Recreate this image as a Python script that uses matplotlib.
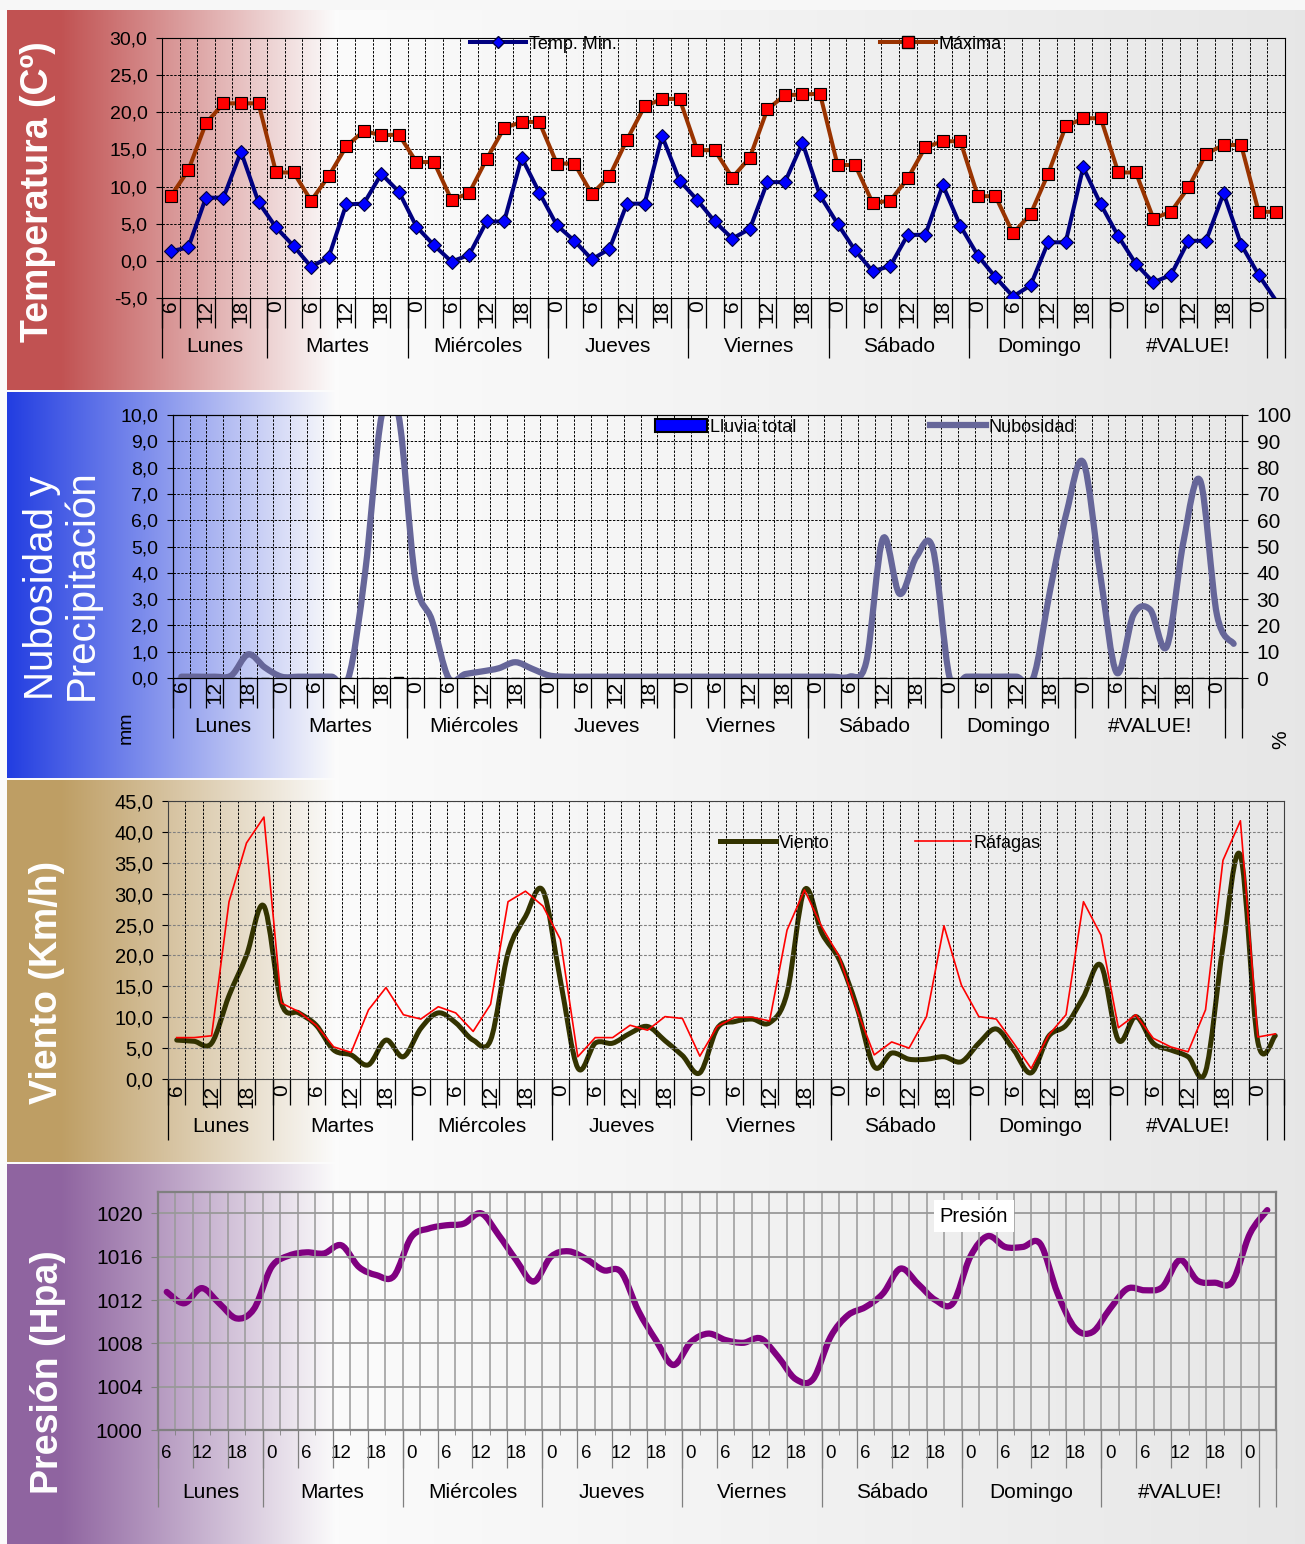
import numpy as np
import matplotlib
matplotlib.use("Agg")
import matplotlib.pyplot as plt
from matplotlib.path import Path
from matplotlib.patches import PathPatch, Patch
from matplotlib.lines import Line2D
from matplotlib.legend import Legend

plt.rcParams['font.family'] = ['Liberation Sans', 'DejaVu Sans']

W, H = 1305, 1544

# categories: one value every 3 hours, Monday 6h onwards
hours = [6, 9, 12, 15, 18, 21] + [0, 3, 6, 9, 12, 15, 18, 21] * 7 + [0, 3]
days = ["Lunes", "Martes", "Miércoles", "Jueves", "Viernes", "Sábado",
        "Domingo", "#VALUE!", ""]
day_sizes = [6, 8, 8, 8, 8, 8, 8, 9, 1]

temp_min = [1.3, 1.8, 8.5, 8.5, 14.7, 7.9,
            4.5, 2.0, -0.8, 0.5, 7.6, 7.7, 11.7, 9.3,
            4.6, 2.1, -0.1, 0.8, 5.3, 5.3, 13.9, 9.2,
            4.8, 2.7, 0.2, 1.6, 7.7, 7.7, 16.8, 10.8,
            8.2, 5.3, 3.0, 4.3, 10.6, 10.6, 15.9, 8.8,
            5.0, 1.4, -1.4, -0.7, 3.5, 3.5, 10.2, 4.7,
            0.7, -2.2, -4.8, -3.3, 2.5, 2.5, 12.6, 7.6,
            3.3, -0.4, -2.9, -1.9, 2.7, 2.7, 9.1, 2.2,
            -1.9, -5.4]
temp_max = [8.7, 12.2, 18.5, 21.2, 21.2, 21.2,
            11.9, 11.9, 8.1, 11.4, 15.4, 17.5, 16.9, 17.0,
            13.3, 13.3, 8.2, 9.1, 13.7, 17.9, 18.7, 18.7,
            13.1, 13.1, 9.0, 11.4, 16.3, 20.8, 21.8, 21.8,
            14.9, 14.9, 11.2, 13.9, 20.4, 22.3, 22.4, 22.5,
            12.9, 12.9, 7.8, 8.1, 11.1, 15.3, 16.1, 16.1,
            8.7, 8.7, 3.7, 6.3, 11.7, 18.1, 19.2, 19.2,
            11.9, 11.9, 5.7, 6.6, 9.9, 14.4, 15.6, 15.6,
            6.6, 6.6]

lluvia = [0.0] * 13 + [0.05] + [0.0] * 50
nubosidad = [0.5, 0.5, 0.5, 1, 9, 4, 0.5, 0.5, 0.5, 0.5, 0, 40, 100, 100,
             38, 22, 0, 1.5, 2.5, 3.7, 6, 3.5, 1] + [0.5] * 18 + \
            [6, 53, 32, 46, 49, 0, 0.5, 0.5, 0.5, 0.5, 0, 33, 63, 82, 40, 2,
             24, 26, 12, 52, 75, 24, 13]

viento = [6.3, 6.1, 5.8, 13.5, 20, 28, 12.3, 10.7, 8.7, 4.7, 3.9, 2.3, 6.3,
          3.6, 8.2, 10.7, 9.1, 6.3, 6.3, 20.4, 26.3, 30.5, 16, 1.8, 5.8, 5.8,
          7.4, 8.5, 6.2, 3.8, 1.0, 8.2, 9.3, 9.7, 9.1, 13.9, 30.6, 23.6, 19.3,
          11.7, 2.0, 4.2, 3.2, 3.2, 3.6, 2.8, 5.8, 8.1, 4.7, 1.0, 6.9, 8.7,
          13.3, 18.4, 6.3, 10.1, 5.8, 4.7, 3.6, 1.2, 21.4, 36.2, 6.0, 7.0]
rafagas = [6.7, 6.7, 7.0, 28.7, 38.2, 42.4, 12.3, 10.9, 8.7, 5.2,
           4.3, 11.2, 14.8, 10.4, 9.7, 11.7, 10.7, 7.7, 12.1, 28.7,
           30.4, 28.0, 22.6, 3.6, 6.7, 6.7, 8.7, 7.9, 10.1, 9.8,
           3.7, 8.5, 10.0, 10.0, 9.4, 24.1, 30.6, 24.6, 19.8, 11.2,
           3.9, 6.0, 5.0, 10.1, 24.8, 15.2, 10.1, 9.7, 5.8, 1.7,
           7.1, 10.4, 28.7, 23.3, 8.3, 10.4, 6.6, 5.2, 4.4, 11.2,
           35.4, 41.8, 6.8, 7.3]

presion = [1012.75, 1011.7, 1013.1, 1011.7, 1010.3, 1011.2, 1015.05, 1016.1,
           1016.4, 1016.3, 1017.05, 1015.05, 1014.3, 1014.2, 1017.8, 1018.6,
           1018.9, 1019.05, 1020.0, 1018.0, 1015.7, 1013.7, 1016.0, 1016.5,
           1015.8, 1014.75, 1014.6, 1011.0, 1008.3, 1006.0, 1008.1, 1008.9,
           1008.3, 1008.05, 1008.45, 1006.75, 1004.7, 1004.7, 1008.6, 1010.6,
           1011.35, 1012.6, 1014.9, 1013.5, 1012.0, 1011.7, 1016.0, 1017.9,
           1016.9, 1016.9, 1017.2, 1012.6, 1009.4, 1009.05, 1011.2, 1013.05,
           1012.9, 1013.2, 1015.7, 1013.8, 1013.6, 1013.7, 1018.1, 1020.3]

x = np.arange(len(hours))
bounds = np.arange(-0.5, len(hours), 1.0)
day_edges = np.concatenate([[0], np.cumsum(day_sizes)]) - 0.5


def comma(v):
    return f"{v:.1f}".replace(".", ",")


def place(l, t, r, b):
    ax = fig.add_axes([l / W, 1 - b / H, (r - l) / W, (b - t) / H])
    ax.set_facecolor("none")
    return ax


def smooth_line(ax, xs, ys, **kw):
    # Excel-like smoothed line: cubic bezier through every point
    xs = np.asarray(xs, float)
    ys = np.asarray(ys, float)
    n = len(xs)
    verts = [(xs[0], ys[0])]
    codes = [Path.MOVETO]
    for i in range(n - 1):
        a = max(i - 1, 0)
        d = min(i + 2, n - 1)
        verts.append((xs[i] + (xs[i + 1] - xs[a]) / 6, ys[i] + (ys[i + 1] - ys[a]) / 6))
        verts.append((xs[i + 1] - (xs[d] - xs[i]) / 6, ys[i + 1] - (ys[d] - ys[i]) / 6))
        verts.append((xs[i + 1], ys[i + 1]))
        codes += [Path.CURVE4] * 3
    ax.add_patch(PathPatch(Path(verts, codes), fill=False, capstyle="round",
                           joinstyle="round", **kw))


def cat_axis(ax, h_px, pad, row_px, sep_px, lab_px, color="black",
             rotate=True, fs=15, pairs=False):
    ax.set_xlim(-0.5, len(hours) - 0.5)
    ax.set_xticks(x[::2], [str(h) for h in hours[::2]],
                  rotation=90 if rotate else 0, fontsize=fs)
    ax.set_xticks(bounds, minor=True)
    ax.tick_params(axis="x", which="major", length=0, pad=pad)
    tr = ax.get_xaxis_transform()
    lines = bounds[::2] if pairs else bounds
    ax.vlines(lines, -row_px / h_px, 0, transform=tr, clip_on=False,
              colors=color, lw=0.9)
    ax.vlines(day_edges, -sep_px / h_px, 0, transform=tr, clip_on=False,
              colors=color, lw=0.9)
    for name, a, b in zip(days, day_edges[:-1], day_edges[1:]):
        ax.text((a + b) / 2, -lab_px / h_px, name, transform=tr,
                ha="center", va="center", fontsize=15)


def key(ax, handle, label, px, py, box, hl=3.1):
    l, t, r, b = box
    leg = Legend(ax, [handle], [label], loc="center left",
                 bbox_to_anchor=((px - l) / (r - l), (b - py) / (b - t)),
                 frameon=False, borderpad=0, borderaxespad=0,
                 handlelength=hl, handletextpad=0.15, fontsize=13)
    ax.add_artist(leg)


fig = plt.figure(figsize=(W / 100, H / 100), dpi=100)

# ---- background: grey sheet with coloured bands on the left ----
bg = fig.add_axes([0, 0, 1, 1], zorder=-10)
cols = np.arange(W)
img = np.ones((H, W, 3))
img[:] = np.interp(cols, [0, 330, W], [0.985, 0.985, 0.905])[None, :, None]
bands = [(10, 390, (193, 82, 82), 60), (392, 778, (35, 62, 225), 8),
         (780, 1162, (190, 158, 100), 60), (1164, H, (143, 100, 160), 60)]
for y0, y1, c, solid in bands:
    fade = np.interp(cols, [7, solid, 335], [1, 1, 0])
    fade[:7] = 0
    c = np.array(c) / 255
    img[y0:y1] = fade[None, :, None] * c + (1 - fade[None, :, None]) * img[y0:y1]
img[:10] = 0.97
bg.imshow(img, aspect="auto", extent=(0, W, H, 0))
bg.set_axis_off()

dash = (0, (2.5, 1.5))

# ---- panel 1: temperature ----
box1 = (162, 38, 1285, 298)
ax1 = place(*box1)
ax1.plot(x, temp_min, color="#000080", lw=2.9, marker="D", ms=7,
         mfc="#0000FF", mec="#000040", mew=0.8, markevery=list(range(63)),
         zorder=4)
ax1.plot(x, temp_max, color="#993300", lw=2.9, marker="s", ms=8.6,
         mfc="#FF0000", mec="black", mew=0.8, zorder=3)
ax1.set_ylim(-5, 30)
ticks1 = np.arange(-5, 31, 5)
ax1.set_yticks(ticks1, [comma(v) for v in ticks1], fontsize=14)
ax1.tick_params(axis="y", length=4.5, pad=6)
ax1.xaxis.grid(True, which="minor", color="black", lw=0.7, ls=dash)
ax1.yaxis.grid(True, color="black", lw=0.7, ls=dash)
cat_axis(ax1, 260, 1.5, 30, 60, 48)
key(ax1, Line2D([], [], color="#000080", lw=2.9, marker="D", ms=6,
                mfc="#0000FF", mec="#000040"), "Temp. Min.", 470, 44, box1)
key(ax1, Line2D([], [], color="#993300", lw=2.9, marker="s", ms=8,
                mfc="#FF0000", mec="black"), "Máxima", 880, 44, box1)

# ---- panel 2: clouds and rain ----
box2 = (173, 415, 1242, 678)
ax2 = place(*box2)
ax2.bar(x, lluvia, width=0.5, color="#0000FF", edgecolor="black", lw=1)
ax2.set_ylim(0, 10)
ticks2 = np.arange(0, 11, 1)
ax2.set_yticks(ticks2, [comma(v) for v in ticks2], fontsize=14)
ax2.tick_params(axis="y", length=4.5, pad=6)
ax2.xaxis.grid(True, which="minor", color="black", lw=0.7, ls=dash)
ax2.yaxis.grid(True, color="black", lw=0.7, ls=dash)
cat_axis(ax2, 263, 2, 30, 60, 48.5)
ax2r = ax2.twinx()
smooth_line(ax2r, x, nubosidad, edgecolor="#666699", lw=4.5)
ax2r.set_ylim(0, 100)
ax2r.set_yticks(np.arange(0, 101, 10))
ax2r.tick_params(axis="y", length=4.5, pad=6, labelsize=15)
key(ax2r, Patch(facecolor="#0000FF", edgecolor="black", lw=1.5),
    "Lluvia total", 655, 427, box2, hl=2.9)
key(ax2r, Line2D([], [], color="#666699", lw=4.5), "Nubosidad", 930, 427, box2)

# ---- panel 3: wind ----
box3 = (168, 801, 1284, 1079)
ax3 = place(*box3)
smooth_line(ax3, x, viento, edgecolor="#333300", lw=3.6)
ax3.plot(x, rafagas, color="#FF0000", lw=1.2)
ax3.set_ylim(0, 45)
ticks3 = np.arange(0, 46, 5)
ax3.set_yticks(ticks3, [comma(v) for v in ticks3], fontsize=14.5)
ax3.tick_params(axis="y", length=4.5, pad=6)
ax3.xaxis.grid(True, which="minor", color="black", lw=0.7, ls=dash)
ax3.yaxis.grid(True, color="#808080", lw=0.8, ls=dash)
for s in ax3.spines.values():
    s.set_color("#404040")
cat_axis(ax3, 278, 4, 26, 61, 48)
key(ax3, Line2D([], [], color="#333300", lw=3.6), "Viento", 720, 843, box3)
key(ax3, Line2D([], [], color="#FF0000", lw=1.2), "Ráfagas", 915, 843, box3)

# ---- panel 4: pressure ----
box4 = (158, 1191.7, 1276, 1430)
ax4 = place(*box4)
smooth_line(ax4, x, presion, edgecolor="#800080", lw=4.5)
ax4.set_ylim(1000, 1022)
ax4.set_yticks(np.arange(1000, 1021, 4))
ax4.tick_params(axis="y", length=5, pad=6, labelsize=15, color="#808080")
ax4.xaxis.grid(True, which="minor", color="#999999", lw=1.1)
ax4.yaxis.grid(True, color="#999999", lw=1.3)
for s in ax4.spines.values():
    s.set_color("#808080")
    s.set_linewidth(1.6)
cat_axis(ax4, 238.3, 11, 38, 77, 63, color="#808080", rotate=False,
         fs=13.5, pairs=True)
ax4.tick_params(axis="x", which="minor", length=3.6, color="#808080")
ax4.text((974 - 158) / 1118, (1430 - 1216) / 238.3, "Presión",
         transform=ax4.transAxes, ha="center", va="center", fontsize=14.5,
         bbox=dict(boxstyle="square,pad=0.3", fc="white", ec="none"))

# ---- panel titles ----
title_kw = dict(rotation=90, color="white", ha="center", va="center")
fig.text(38 / W, 1 - 192 / H, "Temperatura (Cº)", fontsize=27,
         fontweight="bold", **title_kw)
fig.text(62 / W, 1 - 585 / H, "Nubosidad y\nPrecipitación", fontsize=29,
         multialignment="left", linespacing=1.05, **title_kw)
fig.text(47 / W, 1 - 982 / H, "Viento (Km/h)", fontsize=27,
         fontweight="bold", **title_kw)
fig.text(48 / W, 1 - 1372 / H, "Presión (Hpa)", fontsize=27,
         fontweight="bold", **title_kw)
fig.text(126 / W, 1 - 728 / H, "mm", rotation=90, fontsize=14,
         ha="center", va="center")
fig.text(1281 / W, 1 - 740 / H, "%", rotation=90, fontsize=15,
         ha="center", va="center")

fig.savefig("out.png", dpi=100)
